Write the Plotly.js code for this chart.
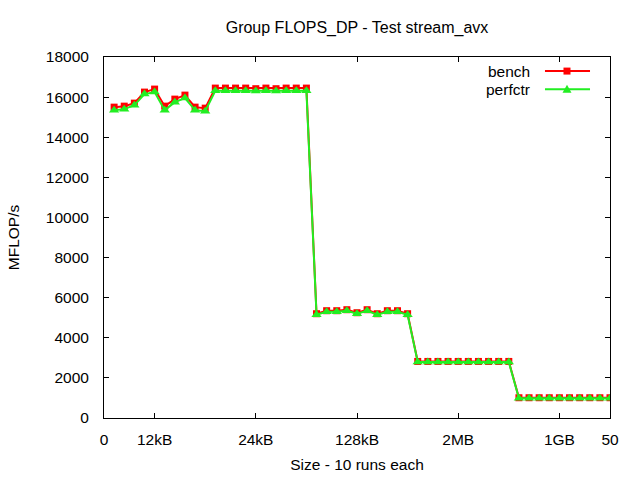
<!DOCTYPE html>
<html>
<head>
<meta charset="utf-8">
<script src="https://cdn.plot.ly/plotly-3.0.1.min.js"></script>
<style>html,body{margin:0;padding:0;background:#fff;}#chart{width:640px;height:480px;}</style>
</head>
<body>
<div id="chart"></div>
<script>
// Run index (1..50), one point per buffer size
const runIndex = [1,2,3,4,5,6,7,8,9,10,11,12,13,14,15,16,17,18,19,20,
                  21,22,23,24,25,26,27,28,29,30,31,32,33,34,35,36,37,38,39,40,
                  41,42,43,44,45,46,47,48,49,50];
const benchValues = [15500,15550,15700,16250,16400,15550,15900,16100,15500,15450,
                     16450,16450,16450,16450,16420,16450,16420,16450,16450,16450,
                     5200,5350,5350,5400,5250,5400,5200,5350,5350,5200,
                     2820,2820,2820,2820,2820,2820,2820,2820,2820,2820,
                     1010,1010,1010,1010,1010,1010,1010,1010,1010,1010];
const perfctrValues = [15350,15400,15600,16150,16250,15350,15750,15950,15350,15300,
                       16320,16320,16320,16320,16300,16320,16300,16320,16320,16320,
                       5150,5300,5300,5350,5200,5350,5150,5300,5300,5150,
                       2790,2790,2790,2790,2790,2790,2790,2790,2790,2790,
                       990,990,990,990,990,990,990,990,990,990];
const xTickVals = [0,5,15,25,35,45,50];
const xTickText = ['0','12kB','24kB','128kB','2MB','1GB','50'];
const seriesNames = ['bench','perfctr'];

const RED = '#ff0000', GREEN = '#22ee22';
const FONT = {family:'Liberation Sans, Arial, sans-serif', size:15.5, color:'#000'};
const TITLE_FONT = {family:'Liberation Sans, Arial, sans-serif', size:16, color:'#000'};

const traces = [
  {x: runIndex, y: benchValues, name: seriesNames[0], type:'scatter', mode:'lines+markers',
   line:{color:RED, width:2}, marker:{symbol:'square', size:7, color:RED}},
  {x: runIndex, y: perfctrValues, name: seriesNames[1], type:'scatter', mode:'lines+markers',
   line:{color:GREEN, width:2}, marker:{symbol:'triangle-up', size:9, color:GREEN}}
];

const axisCommon = {showline:true, linecolor:'#000', linewidth:1, mirror:'ticks',
  ticks:'inside', ticklen:5, tickcolor:'#000', showgrid:false, zeroline:false,
  tickfont:FONT};

const legendY = [0.961, 0.911];
const legendColors = [RED, GREEN];
const shapes = [];
const annotations = [];
for (let i = 0; i < 2; i++) {
  shapes.push({type:'line', xref:'paper', yref:'paper', x0:0.8715, x1:0.9605,
    y0:legendY[i], y1:legendY[i], line:{color:legendColors[i], width:2}});
  shapes.push({type:'path', xref:'paper', yref:'paper', xsizemode:'pixel', ysizemode:'pixel',
    xanchor:0.915, yanchor:legendY[i],
    path: i === 0 ? 'M-3.5,-3.5 L3.5,-3.5 L3.5,3.5 L-3.5,3.5 Z' : 'M-4.5,-3.5 L4.5,-3.5 L0,4.5 Z',
    fillcolor:legendColors[i], line:{color:legendColors[i], width:0}});
  annotations.push({xref:'paper', yref:'paper', x:0.846, y:legendY[i], xanchor:'right',
    yanchor:'middle', text:seriesNames[i], showarrow:false, font:FONT});
}

const layout = {
  width:640, height:480,
  margin:{l:104, r:30, t:57, b:62},
  paper_bgcolor:'#fff', plot_bgcolor:'#fff',
  showlegend:false,
  font:FONT,
  title:{text:'Group FLOPS_DP - Test stream_avx', font:TITLE_FONT, x:0.5, xref:'paper',
         y:1-27/480, yref:'container', yanchor:'middle'},
  xaxis:Object.assign({}, axisCommon, {range:[0,50], tickmode:'array',
    tickvals:xTickVals, ticktext:xTickText, ticklabelstandoff:7,
    title:{text:'Size - 10 runs each', font:FONT, standoff:12}}),
  yaxis:Object.assign({}, axisCommon, {range:[0,18000], dtick:2000, tick0:0,
    tickformat:'d', ticklabelstandoff:11,
    title:{text:'MFLOP/s', font:FONT, standoff:22}}),
  shapes:shapes,
  annotations:annotations
};

Plotly.newPlot('chart', traces, layout, {displayModeBar:false, staticPlot:true});
</script>
</body>
</html>
